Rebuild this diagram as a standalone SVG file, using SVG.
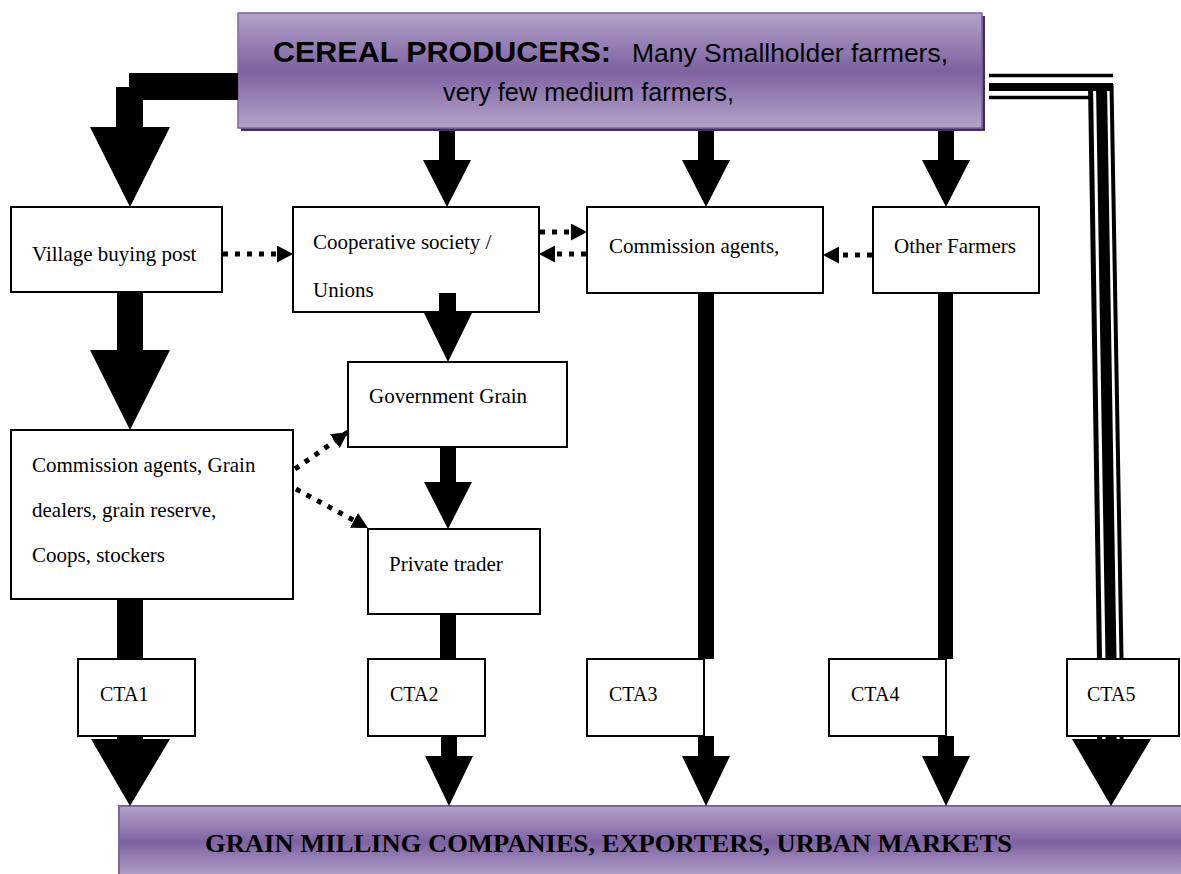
<svg xmlns="http://www.w3.org/2000/svg" width="1181" height="874" viewBox="0 0 1181 874">
<defs>
<linearGradient id="purple" x1="0" y1="0" x2="0" y2="1">
<stop offset="0" stop-color="#B4A3CB"/>
<stop offset="0.5" stop-color="#7E62A0"/>
<stop offset="1" stop-color="#B4A3CB"/>
</linearGradient>
<marker id="dh" markerUnits="userSpaceOnUse" markerWidth="18" markerHeight="18" refX="16" refY="8.5" orient="auto">
<path d="M0,0 L16,8.5 L0,17 z" fill="#000"/>
</marker>
<style>
.box{fill:#fff;stroke:#000;stroke-width:2}
.t{font-family:"Liberation Serif","Times New Roman",serif;font-size:21px;fill:#000}
.c{font-family:"Liberation Serif","Times New Roman",serif;font-size:20px;fill:#000}
.h{font-family:"Liberation Sans",Arial,sans-serif;fill:#000}
.ar{fill:#000;stroke:none}
.dot{fill:none;stroke:#000;stroke-width:5;stroke-dasharray:5 7;marker-end:url(#dh)}
.tl{fill:none;stroke:#000}
</style>
</defs>
<rect width="1181" height="874" fill="#fff"/>
<g id="producers">
<rect x="241" y="16" width="744" height="115" fill="#3F3151"/>
<rect x="238" y="13" width="744" height="115" fill="url(#purple)" stroke="#8064A2" stroke-width="1.5"/>
<text class="h" y="62"><tspan x="273" font-weight="bold" font-size="29" textLength="338" lengthAdjust="spacingAndGlyphs">CEREAL PRODUCERS:</tspan><tspan x="632" font-size="26" textLength="316" lengthAdjust="spacingAndGlyphs">Many Smallholder farmers,</tspan></text>
<text class="h" x="443" y="101" font-size="26" textLength="291" lengthAdjust="spacingAndGlyphs">very few medium farmers,</text>
</g>
<g id="village"><rect class="box" x="11" y="207" width="211" height="85"/><text class="t" x="32" y="261">Village buying post</text></g>
<g id="coop"><rect class="box" x="293" y="207" width="246" height="105"/><text class="t" x="313" y="249">Cooperative society /</text><text class="t" x="313" y="297">Unions</text></g>
<g id="commission-agents"><rect class="box" x="587" y="207" width="236" height="86"/><text class="t" x="609" y="253">Commission agents,</text></g>
<g id="other-farmers"><rect class="box" x="873" y="207" width="166" height="86"/><text class="t" x="894" y="253">Other Farmers</text></g>
<g id="dealers"><rect class="box" x="11" y="430" width="282" height="169"/><text class="t" x="32" y="472">Commission agents, Grain</text><text class="t" x="32" y="517">dealers, grain reserve,</text><text class="t" x="32" y="562">Coops, stockers</text></g>
<g id="government"><rect class="box" x="348" y="362" width="219" height="85"/><text class="t" x="369" y="403">Government Grain</text></g>
<g id="private"><rect class="box" x="368" y="529" width="172" height="85"/><text class="t" x="389" y="571">Private trader</text></g>
<g id="cta1"><rect class="box" x="78" y="659" width="117" height="77"/><text class="c" x="100" y="701">CTA1</text></g>
<g id="cta2"><rect class="box" x="368" y="659" width="117" height="77"/><text class="c" x="390" y="701">CTA2</text></g>
<g id="cta3"><rect class="box" x="587" y="659" width="117" height="77"/><text class="c" x="609" y="701">CTA3</text></g>
<g id="cta4"><rect class="box" x="829" y="659" width="117" height="77"/><text class="c" x="851" y="701">CTA4</text></g>
<g id="cta5"><rect class="box" x="1067" y="659" width="112" height="77"/><text class="c" x="1087" y="701">CTA5</text></g>
<g id="markets">
<rect x="119" y="806" width="1070" height="72" fill="url(#purple)" stroke="#8064A2" stroke-width="2"/>
<text x="205" y="852" font-family="'Liberation Serif','Times New Roman',serif" font-weight="bold" font-size="26" textLength="807" lengthAdjust="spacingAndGlyphs">GRAIN MILLING COMPANIES, EXPORTERS, URBAN MARKETS</text>
</g>
<g id="connectors">
<polygon class="ar" points="238,73 129,73 129,87 116,87 116,127 90,127 130,207 170,127 143,127 143,100 238,100"/>
<polygon class="ar" points="439,131 455,131 455,160 471,160 447,207 423,160 439,160"/>
<polygon class="ar" points="698,131 714,131 714,160 730,160 706,207 682,160 698,160"/>
<polygon class="ar" points="938,131 954,131 954,160 970,160 946,207 922,160 938,160"/>
<polygon class="ar" points="117,292 143,292 143,350 170,350 130,430 90,350 117,350"/>
<polygon class="ar" points="439,293 456,293 456,313 472,313 448,362 424,313 439,313"/>
<polygon class="ar" points="440,447 456,447 456,482 472,482 448,529 424,482 440,482"/>
<rect class="ar" x="440" y="614" width="16" height="45"/>
<rect class="ar" x="117" y="599" width="26" height="60"/>
<rect class="ar" x="698" y="293" width="16" height="366"/>
<rect class="ar" x="938" y="293" width="15" height="366"/>
<polygon class="ar" points="117,736 143,736 143,739 170,739 130,806 91,739 117,739"/>
<polygon class="ar" points="441,736 457,736 457,756 473,756 449,806 425,756 441,756"/>
<polygon class="ar" points="698,736 714,736 714,756 730,756 706,806 682,756 698,756"/>
<polygon class="ar" points="938,736 954,736 954,756 970,756 946,806 922,756 938,756"/>
<line class="tl" x1="989" y1="75.5" x2="1113" y2="75.5" stroke-width="3.5"/>
<line class="tl" x1="989" y1="87" x2="1113" y2="87" stroke-width="8"/>
<line class="tl" x1="989" y1="97.5" x2="1092" y2="97.5" stroke-width="3.5"/>
<line class="tl" x1="1090.5" y1="84" x2="1099.5" y2="659" stroke-width="5"/>
<line class="tl" x1="1101.5" y1="84" x2="1111" y2="659" stroke-width="11"/>
<line class="tl" x1="1111.5" y1="84" x2="1121.5" y2="659" stroke-width="4"/>
<line class="tl" x1="1099.6" y1="737" x2="1099.7" y2="745" stroke-width="5"/>
<line class="tl" x1="1111.1" y1="737" x2="1111.2" y2="745" stroke-width="11"/>
<line class="tl" x1="1121.6" y1="737" x2="1121.7" y2="745" stroke-width="4"/>
<polygon class="ar" points="1072,739 1151,739 1111,806"/>
<line class="dot" x1="223" y1="254" x2="293" y2="254"/>
<line class="dot" x1="540" y1="232" x2="587" y2="232"/>
<line class="dot" x1="586" y1="254" x2="539" y2="254"/>
<line class="dot" x1="872" y1="255" x2="823" y2="255"/>
<line class="dot" x1="295" y1="469" x2="348" y2="432"/>
<line class="dot" x1="296" y1="489" x2="368" y2="528"/>
</g>
</svg>
